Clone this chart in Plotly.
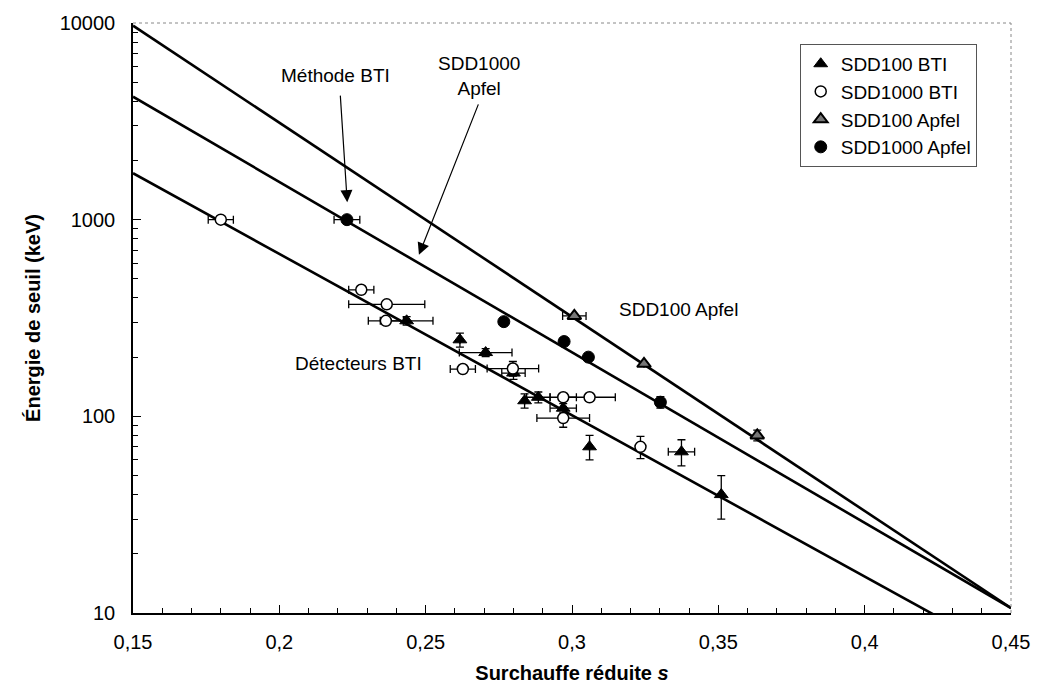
import plotly.graph_objects as go

# --- measured thresholds -------------------------------------------------
# SDD100 BTI (filled triangles)
sdd100_bti_s = [0.2435, 0.2705, 0.280, 0.2885, 0.297, 0.3374, 0.2617, 0.2838, 0.306, 0.351]
sdd100_bti_e = [306, 211, 166, 125, 110, 66, 245, 120, 70, 40]
sdd100_bti_ds = [0.009, 0.009, 0.004, 0.004, 0.0045, 0.0045, 0.0, 0.0, 0.0, 0.0]
sdd100_bti_de = [15, 10, 12, 8, 6, 10, 20, 10, 10, 10]

# SDD1000 BTI (open circles)
sdd1000_bti_s = [0.180, 0.228, 0.2367, 0.2364, 0.2627, 0.2798, 0.297, 0.306, 0.297, 0.3234]
sdd1000_bti_e = [1000, 440, 371, 306, 174, 175, 125, 125, 98, 70]
sdd1000_bti_ds = [0.0043, 0.0043, 0.013, 0.006, 0.0043, 0.0088, 0.0045, 0.0088, 0.009, 0.0]
sdd1000_bti_de = [0, 0, 0, 0, 0, 15, 0, 0, 10, 9]

# SDD100 Apfel (open triangles)
sdd100_apfel_s = [0.3008, 0.3246, 0.3633]
sdd100_apfel_e = [324, 185, 80]
sdd100_apfel_ds = [0.004, 0.0, 0.0]
sdd100_apfel_de = [0, 0, 5]

# SDD1000 Apfel (filled circles)
sdd1000_apfel_s = [0.2231, 0.2767, 0.2973, 0.3056, 0.3302]
sdd1000_apfel_e = [1000, 303, 240, 200, 118]
sdd1000_apfel_ds = [0.0044, 0.0, 0.0, 0.0, 0.0]
sdd1000_apfel_de = [0, 0, 0, 0, 8]

# --- fitted lines (straight in log space, end points) --------------------
fit_apfel100_s = [0.15, 0.45]
fit_apfel100_e = [9700, 10.6]
fit_apfel1000_s = [0.15, 0.45]
fit_apfel1000_e = [4220, 10.6]
fit_bti_s = [0.15, 0.43]
fit_bti_e = [1722, 8.7]

x_ticks = [0.15, 0.2, 0.25, 0.3, 0.35, 0.4, 0.45]
y_ticks = [10, 100, 1000, 10000]

FONT = "Liberation Sans, Arial, sans-serif"

fig = go.Figure()

for fs, fe in [(fit_apfel100_s, fit_apfel100_e),
               (fit_apfel1000_s, fit_apfel1000_e),
               (fit_bti_s, fit_bti_e)]:
    fig.add_trace(go.Scatter(x=fs, y=fe, mode="lines",
                             line=dict(color="black", width=2.6),
                             showlegend=False, hoverinfo="skip"))

err_style = dict(color="black", thickness=1.3, width=4)


def series(name, s, e, ds, de, symbol, fill, lw, size):
    fig.add_trace(go.Scatter(
        x=s, y=e, mode="markers", name=name,
        error_x=dict(type="data", array=ds, visible=True, **err_style),
        error_y=dict(type="data", array=de, visible=True, **err_style),
        marker=dict(symbol=symbol, size=size, color=fill,
                    line=dict(color="black", width=lw)),
    ))


series("SDD100 BTI", sdd100_bti_s, sdd100_bti_e, sdd100_bti_ds, sdd100_bti_de,
       "triangle-up", "black", 1, 12)
series("SDD1000 BTI", sdd1000_bti_s, sdd1000_bti_e, sdd1000_bti_ds, sdd1000_bti_de,
       "circle", "white", 1.5, 11)
series("SDD100 Apfel", sdd100_apfel_s, sdd100_apfel_e, sdd100_apfel_ds, sdd100_apfel_de,
       "triangle-up", "#777777", 2, 12)
series("SDD1000 Apfel", sdd1000_apfel_s, sdd1000_apfel_e, sdd1000_apfel_ds, sdd1000_apfel_de,
       "circle", "black", 1, 12)

L, R, T, B = 133, 28, 20, 85
W, H = 1042, 698
pw, ph = W - L - R, H - T - B


def px(xp):
    return (xp - L) / pw


def py(yp):
    return (H - B - yp) / ph


ann_font = dict(family=FONT, size=19, color="black")


def label(xp, yp, text):
    return dict(x=px(xp), y=py(yp), xref="paper", yref="paper", text=text,
                xanchor="center", yanchor="middle", showarrow=False, font=ann_font)


annotations = [
    label(336, 73, "Méthode BTI"),
    label(480, 73, "SDD1000<br>Apfel"),
    label(680, 308, "SDD100 Apfel"),
    label(359, 362, "Détecteurs BTI"),
    # arrows
    dict(x=0.2232, y=3.089, xref="x", yref="y", ax=-7, ay=-108, text="",
         showarrow=True, arrowhead=2, arrowsize=2, arrowwidth=1.2, arrowcolor="black"),
    dict(x=0.2477, y=2.821, xref="x", yref="y", ax=60, ay=-152, text="",
         showarrow=True, arrowhead=2, arrowsize=2, arrowwidth=1.2, arrowcolor="black"),
]

fig.update_layout(
    width=W, height=H,
    margin=dict(l=L, r=R, t=T, b=B),
    paper_bgcolor="white", plot_bgcolor="white",
    separators=", ",
    font=dict(family=FONT, size=20, color="black"),
    showlegend=True,
    legend=dict(x=px(802), y=py(41), xanchor="left", yanchor="top",
                bgcolor="white", bordercolor="#555555", borderwidth=1,
                font=dict(family=FONT, size=19), tracegroupgap=0,
                itemwidth=30),
    annotations=annotations,
    shapes=[
        dict(type="line", xref="paper", yref="paper", x0=0, x1=1, y0=1, y1=1,
             line=dict(color="#888888", width=1, dash="dot")),
        dict(type="line", xref="paper", yref="paper", x0=1, x1=1, y0=0, y1=1,
             line=dict(color="#888888", width=1, dash="dot")),
    ],
)

fig.update_xaxes(
    range=[0.15, 0.45], tickvals=x_ticks, showgrid=False, zeroline=False,
    showline=True, linecolor="black", linewidth=1.5,
    ticks="inside", ticklen=8, tickcolor="black",
    minor=dict(dtick=0.01, ticks="inside", ticklen=5, tickcolor="black"),
    tickfont=dict(family=FONT, size=20), ticklabelstandoff=10,
    title=dict(text="<b>Surchauffe réduite <i>s</i></b>", standoff=14,
               font=dict(family=FONT, size=20)),
)

fig.update_yaxes(
    type="log", range=[1, 4], tickvals=y_ticks, tickformat="d",
    showgrid=False, zeroline=False,
    showline=True, linecolor="black", linewidth=1.5,
    ticks="inside", ticklen=8, tickcolor="black",
    minor=dict(ticks="inside", ticklen=5, tickcolor="black", dtick="D1"),
    tickfont=dict(family=FONT, size=20), ticklabelstandoff=12,
    title=dict(text="<b>Énergie de seuil (keV)</b>", standoff=14,
               font=dict(family=FONT, size=20)),
)

fig.write_html("out.html")
